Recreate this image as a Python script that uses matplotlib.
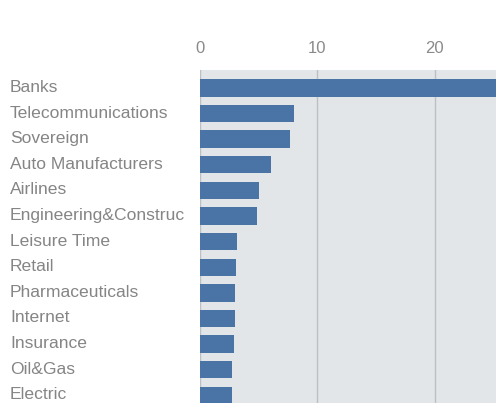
import matplotlib
matplotlib.use("Agg")
import matplotlib.pyplot as plt
from matplotlib.transforms import ScaledTranslation

# Industry exposure counts
industries = [
    "Banks", "Telecommunications", "Sovereign", "Auto Manufacturers",
    "Airlines", "Engineering&Construc", "Leisure Time", "Retail",
    "Pharmaceuticals", "Internet", "Insurance", "Oil&Gas", "Electric",
]
values = [27.0, 8.0, 7.7, 6.05, 5.0, 4.85, 3.15, 3.05, 3.0, 3.0, 2.9, 2.75, 2.75]
x_ticks = [0, 10, 20]

family = "Liberation Sans"

W, H, DPI = 496, 403, 100
fig = plt.figure(figsize=(W / DPI, H / DPI), dpi=DPI)
fig.patch.set_facecolor("white")

# axes: left at 200px, top at 70px, running off the right and bottom edges
ax = fig.add_axes([200 / W, 0.0, 1 - 200 / W, (H - 70) / H])
ax.set_facecolor("#e3e6e9")

pos = list(range(len(industries)))
ax.barh(pos, values, height=0.68, color="#4a74a6", zorder=3)

ax.set_xlim(0, 25.2)
ax.set_ylim(12.3, -0.7)

ax.xaxis.tick_top()
ax.set_xticks(x_ticks)
ax.set_xticklabels([str(t) for t in x_ticks], family=family, fontsize=12, color="#8a8a8a")
ax.tick_params(axis="x", length=0, pad=10)
ax.grid(axis="x", color="#bcc0c4", linewidth=1.0, zorder=1)
ax.set_axisbelow(True)

ax.set_yticks(pos)
ax.set_yticklabels(industries, family=family, fontsize=12.6, color="#858585", ha="left")
# pad is in points: 190 px at 100 dpi
ax.tick_params(axis="y", length=0, pad=190 * 72 / DPI)
lift = ScaledTranslation(0, 2 / DPI, fig.dpi_scale_trans)
for lbl in ax.get_yticklabels():
    lbl.set_transform(lbl.get_transform() + lift)

for s in ax.spines.values():
    s.set_visible(False)

fig.savefig("out.png", dpi=DPI, facecolor="white")
